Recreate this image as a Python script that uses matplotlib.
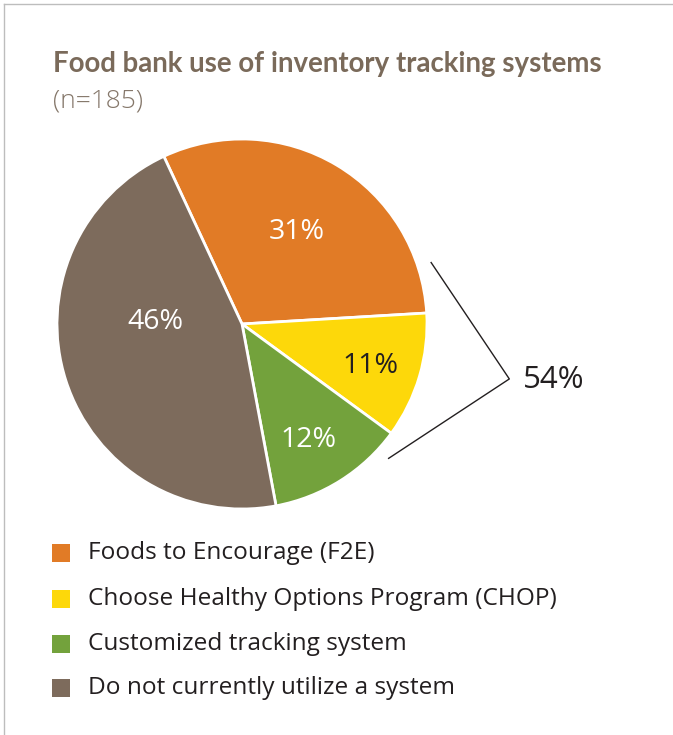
import matplotlib
matplotlib.use("Agg")
import matplotlib.pyplot as plt
from matplotlib.lines import Line2D
from matplotlib.patches import Rectangle
import numpy as np

categories = ["Foods to Encourage (F2E)", "Choose Healthy Options Program (CHOP)",
              "Customized tracking system", "Do not currently utilize a system"]
values = [31, 11, 12, 46]
colors = ["#E17B26", "#FDD80A", "#73A23C", "#7D6B5C"]
label_colors = ["white", "#231F20", "white", "white"]
bracket_label = "54%"
title = "Food bank use of inventory tracking systems"
subtitle = "(n=185)"

W, H = 673, 735
fig = plt.figure(figsize=(W / 100, H / 100), dpi=100)

def fx(x): return x / W
def fy(y): return 1 - y / H

# border lines (top and left)
fig.add_artist(Line2D([fx(4), 1], [fy(4), fy(4)], transform=fig.transFigure, color="#bdbdbd", lw=1))
fig.add_artist(Line2D([fx(4), fx(4)], [fy(4), 0], transform=fig.transFigure, color="#bdbdbd", lw=1))

fig.text(fx(53), fy(64), title, fontsize=19.9, fontweight="bold", color="#7A6A5A",
         family=["Lato", "DejaVu Sans"], va="center", ha="left")
fig.text(fx(53), fy(101), subtitle, fontsize=19, color="#85776A", fontweight="light",
         family=["Open Sans", "DejaVu Sans"], va="center", ha="left")

cx, cy, r = 242, 324, 185
ax = fig.add_axes([fx(cx - r), fy(cy + r), 2 * r / W, 2 * r / H])
wedges, texts = ax.pie(values, colors=colors, startangle=115, counterclock=False,
                       radius=1, wedgeprops=dict(edgecolor="white", linewidth=2))
ax.set_xlim(-1, 1)
ax.set_ylim(-1, 1)
ax.set_aspect("equal")
ax.axis("off")

label_r = [0.58, 0.73, 0.72, 0.47]
label_shift = [0, -1.5, -2.5, -19]  # degrees relative to wedge middle
for w, v, lr, sh, lc in zip(wedges, values, label_r, label_shift, label_colors):
    ang = np.deg2rad((w.theta1 + w.theta2) / 2 + sh)
    ax.text(lr * np.cos(ang), lr * np.sin(ang), f"{v}%", color=lc, fontsize=20.5,
            ha="center", va="center", family=["Open Sans", "DejaVu Sans"])

# bracket
a1, a2 = np.deg2rad(18), np.deg2rad(-42.5)
rb = 1.075
apex = (1.445, -0.297)
ax.plot([rb * np.cos(a1), apex[0], rb * np.cos(a2)],
        [rb * np.sin(a1), apex[1], rb * np.sin(a2)], color="#231F20", lw=1, clip_on=False)
ax.text(1.52, -0.30, bracket_label, fontsize=22.5, color="#231F20", ha="left", va="center",
        family=["Open Sans", "DejaVu Sans"])

# legend
leg_y = [553, 599, 644, 688]
for cat, col, y in zip(categories, colors, leg_y):
    fig.add_artist(Rectangle((fx(52), fy(y + 9)), 18 / W, 18 / H, transform=fig.transFigure,
                             facecolor=col, edgecolor="none"))
    fig.text(fx(88), fy(y), cat, fontsize=17.6, color="#231F20", va="center", ha="left",
             family=["Open Sans", "DejaVu Sans"])

fig.savefig("out.png", dpi=100)
